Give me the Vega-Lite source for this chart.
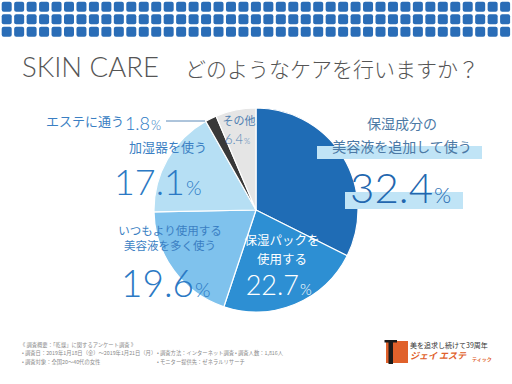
{
  "$schema": "https://vega.github.io/schema/vega-lite/v6.json",
  "width": 512,
  "height": 348,
  "autosize": "none",
  "padding": {"top": 36, "left": 0, "right": 0, "bottom": 0},
  "background": "white",
  "config": {"view": {"stroke": null}, "axis": {"disable": true}, "text": {"font": "Noto Sans CJK JP"}},
  "data": {"values": [
    {"idx": 1, "item": "保湿成分の美容液を追加して使う", "l1": "保湿成分の", "l2": "美容液を追加して使う", "pct": 32.4},
    {"idx": 2, "item": "保湿パックを使用する", "l1": "保湿パックを", "l2": "使用する", "pct": 22.7},
    {"idx": 3, "item": "いつもより使用する美容液を多く使う", "l1": "いつもより使用する", "l2": "美容液を多く使う", "pct": 19.6},
    {"idx": 4, "item": "加湿器を使う", "l1": "加湿器を使う", "l2": "", "pct": 17.1},
    {"idx": 5, "item": "エステに通う", "l1": "エステに通う", "l2": "", "pct": 1.8},
    {"idx": 6, "item": "その他", "l1": "その他", "l2": "", "pct": 6.4}
  ]},
  "resolve": {"scale": {"x": "independent", "y": "independent"}},
  "layer": [
    {
      "data": {"values": [{"c": [0,1,2,3,4,5,6,7,8,9,10,11,12,13,14,15,16,17,18,19,20,21,22,23,24,25,26,27,28,29,30,31,32,33,34,35,36,37,38,39,40], "r": [0,1,2]}]},
      "transform": [{"flatten": ["c"]}, {"flatten": ["r"]}],
      "mark": {"type": "point", "shape": "M-1 -0.6Q-1 -1 -0.6 -1L0.6 -1Q1 -1 1 -0.6L1 0.6Q1 1 0.6 1L-0.6 1Q-1 1 -1 0.6Z", "size": 100, "filled": true, "color": "#2a6db7", "opacity": 1},
      "encoding": {
        "x": {"field": "c", "type": "quantitative", "scale": {"domain": [0, 40], "range": [6.7, 505.1]}},
        "y": {"field": "r", "type": "quantitative", "scale": {"domain": [0, 2], "range": [-29.3, -4.3]}}
      }
    },
    {
      "layer": [
        {
          "mark": {"type": "arc", "outerRadius": 102, "stroke": "white", "strokeWidth": 1.2},
          "encoding": {
            "theta": {"field": "pct", "type": "quantitative", "stack": true},
            "order": {"field": "idx"},
            "color": {"field": "item", "type": "nominal", "legend": null, "scale": {
              "domain": ["保湿成分の美容液を追加して使う", "保湿パックを使用する", "いつもより使用する美容液を多く使う", "加湿器を使う", "エステに通う", "その他"],
              "range": ["#1f6cb5", "#2d8fd3", "#7fc2ed", "#b6dff4", "#383838", "#e5e5e5"]}}
          }
        },
        {
          "data": {"values": [{}]},
          "mark": {"type": "text", "text": "SKIN CARE", "font": "Lato", "fontWeight": 300, "fontSize": 27.5, "color": "#555555", "align": "left", "baseline": "alphabetic"},
          "encoding": {"x": {"datum": 22, "type": "quantitative", "scale": {"domain": [0, 512]}}, "y": {"datum": 77, "type": "quantitative", "scale": {"domain": [36, 384], "reverse": true}}}
        },
        {
          "data": {"values": [{}]},
          "mark": {"type": "text", "text": "どのようなケアを行いますか？", "font": "Noto Sans CJK JP", "fontWeight": 300, "fontSize": 21, "color": "#555555", "align": "left", "baseline": "alphabetic"},
          "encoding": {"x": {"datum": 185, "type": "quantitative", "scale": {"domain": [0, 512]}}, "y": {"datum": 77, "type": "quantitative", "scale": {"domain": [36, 384], "reverse": true}}}
        },
        {
          "data": {"values": [{}]},
          "mark": {"type": "rect", "color": "#c0e4f6"},
          "encoding": {"x": {"datum": 317, "type": "quantitative", "scale": {"domain": [0, 512]}}, "x2": {"datum": 482}, "y": {"datum": 146, "type": "quantitative", "scale": {"domain": [36, 384], "reverse": true}}, "y2": {"datum": 159}}
        },
        {
          "data": {"values": [{}]},
          "mark": {"type": "rect", "color": "#c0e4f6"},
          "encoding": {"x": {"datum": 345, "type": "quantitative", "scale": {"domain": [0, 512]}}, "x2": {"datum": 463}, "y": {"datum": 192, "type": "quantitative", "scale": {"domain": [36, 384], "reverse": true}}, "y2": {"datum": 209}}
        },
        {
          "transform": [{"filter": "datum.idx == 1"}],
          "mark": {"type": "text", "fontSize": 14, "color": "#4c79a5", "align": "center", "baseline": "middle"},
          "encoding": {"text": {"field": "l1"}, "x": {"datum": 402, "type": "quantitative", "scale": {"domain": [0, 512]}}, "y": {"datum": 125, "type": "quantitative", "scale": {"domain": [36, 384], "reverse": true}}}
        },
        {
          "transform": [{"filter": "datum.idx == 1"}],
          "mark": {"type": "text", "fontSize": 14, "color": "#4c79a5", "align": "center", "baseline": "middle"},
          "encoding": {"text": {"field": "l2"}, "x": {"datum": 402, "type": "quantitative", "scale": {"domain": [0, 512]}}, "y": {"datum": 148, "type": "quantitative", "scale": {"domain": [36, 384], "reverse": true}}}
        },
        {
          "transform": [{"filter": "datum.idx == 1"}],
          "mark": {"type": "text", "font": "Lato", "fontWeight": 300, "fontSize": 42, "color": "#2367af", "align": "right", "baseline": "alphabetic"},
          "encoding": {"text": {"field": "pct", "type": "quantitative", "format": ".1f"}, "x": {"datum": 433, "type": "quantitative", "scale": {"domain": [0, 512]}}, "y": {"datum": 203, "type": "quantitative", "scale": {"domain": [36, 384], "reverse": true}}}
        },
        {
          "transform": [{"filter": "datum.idx == 1"}],
          "mark": {"type": "text", "text": "%", "font": "Lato", "fontWeight": 300, "fontSize": 22, "color": "#2367af", "align": "left", "baseline": "alphabetic"},
          "encoding": {"x": {"datum": 434, "type": "quantitative", "scale": {"domain": [0, 512]}}, "y": {"datum": 203, "type": "quantitative", "scale": {"domain": [36, 384], "reverse": true}}}
        },
        {
          "transform": [{"filter": "datum.idx == 2"}],
          "mark": {"type": "text", "fontSize": 12.5, "color": "white", "align": "center", "baseline": "middle"},
          "encoding": {"text": {"field": "l1"}, "x": {"datum": 282, "type": "quantitative", "scale": {"domain": [0, 512]}}, "y": {"datum": 241, "type": "quantitative", "scale": {"domain": [36, 384], "reverse": true}}}
        },
        {
          "transform": [{"filter": "datum.idx == 2"}],
          "mark": {"type": "text", "fontSize": 12.5, "color": "white", "align": "center", "baseline": "middle"},
          "encoding": {"text": {"field": "l2"}, "x": {"datum": 282, "type": "quantitative", "scale": {"domain": [0, 512]}}, "y": {"datum": 260, "type": "quantitative", "scale": {"domain": [36, 384], "reverse": true}}}
        },
        {
          "transform": [{"filter": "datum.idx == 2"}],
          "mark": {"type": "text", "font": "Lato", "fontWeight": 300, "fontSize": 27, "color": "white", "align": "right", "baseline": "alphabetic"},
          "encoding": {"text": {"field": "pct", "type": "quantitative", "format": ".1f"}, "x": {"datum": 299, "type": "quantitative", "scale": {"domain": [0, 512]}}, "y": {"datum": 295, "type": "quantitative", "scale": {"domain": [36, 384], "reverse": true}}}
        },
        {
          "transform": [{"filter": "datum.idx == 2"}],
          "mark": {"type": "text", "text": "%", "font": "Lato", "fontWeight": 300, "fontSize": 15, "color": "white", "align": "left", "baseline": "alphabetic"},
          "encoding": {"x": {"datum": 300, "type": "quantitative", "scale": {"domain": [0, 512]}}, "y": {"datum": 295, "type": "quantitative", "scale": {"domain": [36, 384], "reverse": true}}}
        },
        {
          "transform": [{"filter": "datum.idx == 3"}],
          "mark": {"type": "text", "fontSize": 11.5, "color": "#3b7fc3", "align": "center", "baseline": "middle"},
          "encoding": {"text": {"field": "l1"}, "x": {"datum": 170, "type": "quantitative", "scale": {"domain": [0, 512]}}, "y": {"datum": 232, "type": "quantitative", "scale": {"domain": [36, 384], "reverse": true}}}
        },
        {
          "transform": [{"filter": "datum.idx == 3"}],
          "mark": {"type": "text", "fontSize": 11.5, "color": "#3b7fc3", "align": "center", "baseline": "middle"},
          "encoding": {"text": {"field": "l2"}, "x": {"datum": 170, "type": "quantitative", "scale": {"domain": [0, 512]}}, "y": {"datum": 247, "type": "quantitative", "scale": {"domain": [36, 384], "reverse": true}}}
        },
        {
          "transform": [{"filter": "datum.idx == 3"}],
          "mark": {"type": "text", "font": "Lato", "fontWeight": 300, "fontSize": 37, "color": "#2b79c4", "align": "right", "baseline": "alphabetic"},
          "encoding": {"text": {"field": "pct", "type": "quantitative", "format": ".1f"}, "x": {"datum": 194, "type": "quantitative", "scale": {"domain": [0, 512]}}, "y": {"datum": 297, "type": "quantitative", "scale": {"domain": [36, 384], "reverse": true}}}
        },
        {
          "transform": [{"filter": "datum.idx == 3"}],
          "mark": {"type": "text", "text": "%", "font": "Lato", "fontWeight": 300, "fontSize": 20, "color": "#2b79c4", "align": "left", "baseline": "alphabetic"},
          "encoding": {"x": {"datum": 195, "type": "quantitative", "scale": {"domain": [0, 512]}}, "y": {"datum": 297, "type": "quantitative", "scale": {"domain": [36, 384], "reverse": true}}}
        },
        {
          "transform": [{"filter": "datum.idx == 4"}],
          "mark": {"type": "text", "fontSize": 13, "color": "#3b7fc3", "align": "center", "baseline": "middle"},
          "encoding": {"text": {"field": "l1"}, "x": {"datum": 168, "type": "quantitative", "scale": {"domain": [0, 512]}}, "y": {"datum": 148, "type": "quantitative", "scale": {"domain": [36, 384], "reverse": true}}}
        },
        {
          "transform": [{"filter": "datum.idx == 4"}],
          "mark": {"type": "text", "font": "Lato", "fontWeight": 300, "fontSize": 36, "color": "#2b79c4", "align": "right", "baseline": "alphabetic"},
          "encoding": {"text": {"field": "pct", "type": "quantitative", "format": ".1f"}, "x": {"datum": 185, "type": "quantitative", "scale": {"domain": [0, 512]}}, "y": {"datum": 195, "type": "quantitative", "scale": {"domain": [36, 384], "reverse": true}}}
        },
        {
          "transform": [{"filter": "datum.idx == 4"}],
          "mark": {"type": "text", "text": "%", "font": "Lato", "fontWeight": 300, "fontSize": 20, "color": "#2b79c4", "align": "left", "baseline": "alphabetic"},
          "encoding": {"x": {"datum": 186, "type": "quantitative", "scale": {"domain": [0, 512]}}, "y": {"datum": 195, "type": "quantitative", "scale": {"domain": [36, 384], "reverse": true}}}
        },
        {
          "transform": [{"filter": "datum.idx == 5"}],
          "mark": {"type": "text", "fontSize": 13, "color": "#3b7fc3", "align": "center", "baseline": "middle"},
          "encoding": {"text": {"field": "l1"}, "x": {"datum": 85, "type": "quantitative", "scale": {"domain": [0, 512]}}, "y": {"datum": 122, "type": "quantitative", "scale": {"domain": [36, 384], "reverse": true}}}
        },
        {
          "transform": [{"filter": "datum.idx == 5"}],
          "mark": {"type": "text", "font": "Lato", "fontWeight": 300, "fontSize": 18, "color": "#2b79c4", "align": "right", "baseline": "alphabetic"},
          "encoding": {"text": {"field": "pct", "type": "quantitative", "format": ".1f"}, "x": {"datum": 150, "type": "quantitative", "scale": {"domain": [0, 512]}}, "y": {"datum": 130, "type": "quantitative", "scale": {"domain": [36, 384], "reverse": true}}}
        },
        {
          "transform": [{"filter": "datum.idx == 5"}],
          "mark": {"type": "text", "text": "%", "font": "Lato", "fontWeight": 300, "fontSize": 13, "color": "#2b79c4", "align": "left", "baseline": "alphabetic"},
          "encoding": {"x": {"datum": 151, "type": "quantitative", "scale": {"domain": [0, 512]}}, "y": {"datum": 130, "type": "quantitative", "scale": {"domain": [36, 384], "reverse": true}}}
        },
        {
          "transform": [{"filter": "datum.idx == 5"}],
          "mark": {"type": "rule", "color": "#5d8ab8", "strokeWidth": 1},
          "encoding": {"x": {"datum": 166, "type": "quantitative", "scale": {"domain": [0, 512]}}, "x2": {"datum": 205}, "y": {"datum": 121, "type": "quantitative", "scale": {"domain": [36, 384], "reverse": true}}}
        },
        {
          "transform": [{"filter": "datum.idx == 6"}],
          "mark": {"type": "text", "fontSize": 11, "color": "#4f7fb2", "align": "center", "baseline": "middle"},
          "encoding": {"text": {"field": "l1"}, "x": {"datum": 239, "type": "quantitative", "scale": {"domain": [0, 512]}}, "y": {"datum": 122, "type": "quantitative", "scale": {"domain": [36, 384], "reverse": true}}}
        },
        {
          "transform": [{"filter": "datum.idx == 6"}],
          "mark": {"type": "text", "font": "Lato", "fontWeight": 300, "fontSize": 13, "color": "#4f7fb2", "align": "right", "baseline": "alphabetic"},
          "encoding": {"text": {"field": "pct", "type": "quantitative", "format": ".1f"}, "x": {"datum": 243, "type": "quantitative", "scale": {"domain": [0, 512]}}, "y": {"datum": 144, "type": "quantitative", "scale": {"domain": [36, 384], "reverse": true}}}
        },
        {
          "transform": [{"filter": "datum.idx == 6"}],
          "mark": {"type": "text", "text": "%", "font": "Lato", "fontWeight": 300, "fontSize": 8, "color": "#4f7fb2", "align": "left", "baseline": "alphabetic"},
          "encoding": {"x": {"datum": 244, "type": "quantitative", "scale": {"domain": [0, 512]}}, "y": {"datum": 144, "type": "quantitative", "scale": {"domain": [36, 384], "reverse": true}}}
        },
        {
          "data": {"values": [{}]},
          "mark": {"type": "text", "text": "《 調査概要：「乾燥」に関するアンケート調査 》", "fontSize": 5.3, "color": "#8a8a8a", "align": "left", "baseline": "middle"},
          "encoding": {"x": {"datum": 20, "type": "quantitative", "scale": {"domain": [0, 512]}}, "y": {"datum": 345, "type": "quantitative", "scale": {"domain": [36, 384], "reverse": true}}}
        },
        {
          "data": {"values": [{}]},
          "mark": {"type": "text", "text": "• 調査日：2019年1月18日（金）〜2019年1月21日（月）", "fontSize": 5.3, "color": "#8a8a8a", "align": "left", "baseline": "middle"},
          "encoding": {"x": {"datum": 22, "type": "quantitative", "scale": {"domain": [0, 512]}}, "y": {"datum": 353.3, "type": "quantitative", "scale": {"domain": [36, 384], "reverse": true}}}
        },
        {
          "data": {"values": [{}]},
          "mark": {"type": "text", "text": "• 調査対象：全国20〜40代の女性", "fontSize": 5.3, "color": "#8a8a8a", "align": "left", "baseline": "middle"},
          "encoding": {"x": {"datum": 22, "type": "quantitative", "scale": {"domain": [0, 512]}}, "y": {"datum": 361.7, "type": "quantitative", "scale": {"domain": [36, 384], "reverse": true}}}
        },
        {
          "data": {"values": [{}]},
          "mark": {"type": "text", "text": "• 調査方法：インターネット調査", "fontSize": 5.3, "color": "#8a8a8a", "align": "left", "baseline": "middle"},
          "encoding": {"x": {"datum": 157, "type": "quantitative", "scale": {"domain": [0, 512]}}, "y": {"datum": 353.3, "type": "quantitative", "scale": {"domain": [36, 384], "reverse": true}}}
        },
        {
          "data": {"values": [{}]},
          "mark": {"type": "text", "text": "• 調査人数：1,816人", "fontSize": 5.3, "color": "#8a8a8a", "align": "left", "baseline": "middle"},
          "encoding": {"x": {"datum": 235, "type": "quantitative", "scale": {"domain": [0, 512]}}, "y": {"datum": 353.3, "type": "quantitative", "scale": {"domain": [36, 384], "reverse": true}}}
        },
        {
          "data": {"values": [{}]},
          "mark": {"type": "text", "text": "• モニター提供先：ゼネラルリサーチ", "fontSize": 5.3, "color": "#8a8a8a", "align": "left", "baseline": "middle"},
          "encoding": {"x": {"datum": 157, "type": "quantitative", "scale": {"domain": [0, 512]}}, "y": {"datum": 361.7, "type": "quantitative", "scale": {"domain": [36, 384], "reverse": true}}}
        },
        {
          "data": {"values": [{}]},
          "mark": {"type": "rect", "color": "#e0612b"},
          "encoding": {"x": {"datum": 386, "type": "quantitative", "scale": {"domain": [0, 512]}}, "x2": {"datum": 408}, "y": {"datum": 341, "type": "quantitative", "scale": {"domain": [36, 384], "reverse": true}}, "y2": {"datum": 363}}
        },
        {
          "data": {"values": [{}]},
          "mark": {"type": "rect", "color": "#1a1a1a"},
          "encoding": {"x": {"datum": 388.5, "type": "quantitative", "scale": {"domain": [0, 512]}}, "x2": {"datum": 393}, "y": {"datum": 340, "type": "quantitative", "scale": {"domain": [36, 384], "reverse": true}}, "y2": {"datum": 364}}
        },
        {
          "data": {"values": [{}]},
          "mark": {"type": "rect", "color": "#1a1a1a"},
          "encoding": {"x": {"datum": 384.5, "type": "quantitative", "scale": {"domain": [0, 512]}}, "x2": {"datum": 397}, "y": {"datum": 340, "type": "quantitative", "scale": {"domain": [36, 384], "reverse": true}}, "y2": {"datum": 342.5}}
        },
        {
          "data": {"values": [{}]},
          "mark": {"type": "text", "text": "美を追求し続けて39周年", "fontSize": 7, "color": "#333333", "align": "left", "baseline": "middle"},
          "encoding": {"x": {"datum": 410, "type": "quantitative", "scale": {"domain": [0, 512]}}, "y": {"datum": 346, "type": "quantitative", "scale": {"domain": [36, 384], "reverse": true}}}
        },
        {
          "data": {"values": [{}]},
          "mark": {"type": "text", "text": "ジェイ エステ", "fontSize": 9, "fontWeight": "bold", "fontStyle": "italic", "color": "#e0612b", "align": "left", "baseline": "middle"},
          "encoding": {"x": {"datum": 410, "type": "quantitative", "scale": {"domain": [0, 512]}}, "y": {"datum": 356, "type": "quantitative", "scale": {"domain": [36, 384], "reverse": true}}}
        },
        {
          "data": {"values": [{}]},
          "mark": {"type": "text", "text": "ティック", "fontSize": 5, "fontWeight": "bold", "color": "#e0612b", "align": "left", "baseline": "middle"},
          "encoding": {"x": {"datum": 472, "type": "quantitative", "scale": {"domain": [0, 512]}}, "y": {"datum": 359, "type": "quantitative", "scale": {"domain": [36, 384], "reverse": true}}}
        }
      ]
    }
  ]
}
